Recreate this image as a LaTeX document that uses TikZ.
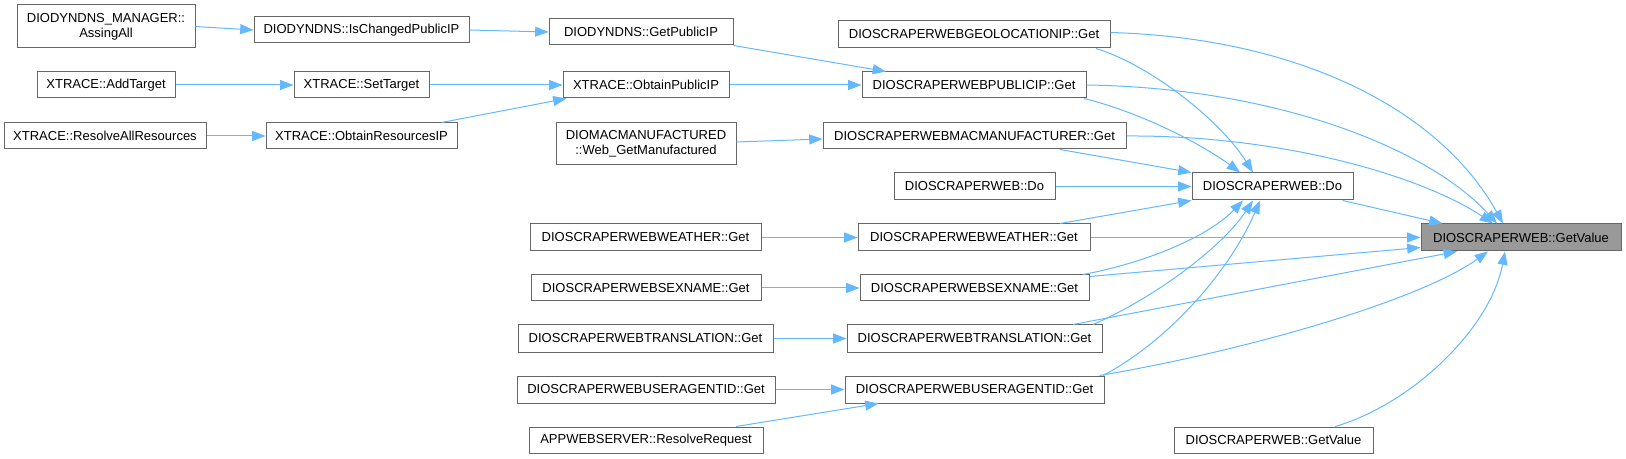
\documentclass[tikz,border=0pt]{standalone}
\usepackage{fontspec}
\setmainfont{Liberation Sans}
\usetikzlibrary{arrows.meta,calc}
\definecolor{edgecol}{HTML}{63B8FF}
\definecolor{nodeborder}{HTML}{666666}
\definecolor{gvfill}{HTML}{999999}
\tikzset{
  box/.style={draw=nodeborder, fill=white, line width=0.75pt, inner sep=0pt, align=center,
    font=\fontsize{9.75}{11.25}\selectfont},
  hl/.style={fill=gvfill},
  edge/.style={draw=edgecol, line width=0.75pt, -{Triangle[length=10pt,width=7.5pt]}},
}
\newcommand\mybox[7][]{\node[box,#1,minimum width={0.75pt*(#5-#3)},minimum height={0.75pt*(#6-#4)}] (#2) at ({(#3+#5)/2},{(#4+#6)/2}) {#7};}
\begin{document}
\begin{tikzpicture}[x=0.75pt,y=-0.75pt]
\useasboundingbox (0,0) rectangle (1626,459);
% nodes
\mybox{amgr}{17}{5}{195}{48}{DIODYNDNS\_MANAGER::\\AssingAll}
\mybox{ischg}{254}{17}{469}{43}{DIODYNDNS::IsChangedPublicIP}
\mybox{addt}{37}{72}{175}{98}{XTRACE::AddTarget}
\mybox{sett}{294}{72}{429}{98}{XTRACE::SetTarget}
\mybox{resall}{4}{123}{206}{149}{XTRACE::ResolveAllResources}
\mybox{obres}{266}{123}{457}{149}{XTRACE::ObtainResourcesIP}
\mybox{getpub}{549}{19}{733}{45}{DIODYNDNS::GetPublicIP}
\mybox{obpub}{563}{72}{729}{98}{XTRACE::ObtainPublicIP}
\mybox{macmf}{556}{123}{736}{165}{DIOMACMANUFACTURED\\::Web\_GetManufactured}
\mybox{geo}{838}{21}{1110}{48}{DIOSCRAPERWEBGEOLOCATIONIP::Get}
\mybox{pubip}{862}{72}{1086}{98}{DIOSCRAPERWEBPUBLICIP::Get}
\mybox{macget}{823}{123}{1126}{149}{DIOSCRAPERWEBMACMANUFACTURER::Get}
\mybox{do1}{894}{173}{1055}{200}{DIOSCRAPERWEB::Do}
\mybox{do2}{1192}{173}{1353}{200}{DIOSCRAPERWEB::Do}
\mybox[hl]{gv}{1421}{224}{1621}{251}{DIOSCRAPERWEB::GetValue}
\mybox{wea1}{530}{224}{761}{251}{DIOSCRAPERWEBWEATHER::Get}
\mybox{wea2}{858}{224}{1090}{251}{DIOSCRAPERWEBWEATHER::Get}
\mybox{sex1}{531}{275}{761}{301}{DIOSCRAPERWEBSEXNAME::Get}
\mybox{sex2}{860}{275}{1089}{301}{DIOSCRAPERWEBSEXNAME::Get}
\mybox{tr1}{518}{325}{773}{352}{DIOSCRAPERWEBTRANSLATION::Get}
\mybox{tr2}{847}{325}{1102}{352}{DIOSCRAPERWEBTRANSLATION::Get}
\mybox{ua1}{517}{376}{775}{403}{DIOSCRAPERWEBUSERAGENTID::Get}
\mybox{ua2}{845}{376}{1104}{403}{DIOSCRAPERWEBUSERAGENTID::Get}
\mybox{app}{529}{427}{763}{453}{APPWEBSERVER::ResolveRequest}
\mybox{gv2}{1174}{427}{1373}{453}{DIOSCRAPERWEB::GetValue}
% edges
\draw[edge] (amgr.east) -- (ischg.west);
\draw[edge] (ischg.east) -- (getpub.west);
\draw[edge] (addt.east) -- (sett.west);
\draw[edge] (sett.east) -- (obpub.west);
\draw[edge] (resall.east) -- (obres.west);
\draw[edge] ($(obres.north)+(80,0)$) -- ($(obpub.south west)+(4,0)$);
\draw[edge] (getpub.south east) -- ($(pubip.north)+(-88,0)$);
\draw[edge] (obpub.east) -- (pubip.west);
\draw[edge] ($(macmf.east)+(0,-2)$) -- ($(macget.west)+(0,3)$);
\draw[edge] ($(geo.east)+(0,-2)$) .. controls (1300,38) and (1440,110) .. ($(gv.north)+(-18,0)$);
\draw[edge] ($(geo.south)+(122,0)$) .. controls (1150,65) and (1220,120) .. ($(do2.north)+(-19.5,0)$);
\draw[edge] (pubip.east) .. controls (1280,88) and (1430,150) .. ($(gv.north)+(-24,0)$);
\draw[edge] ($(pubip.south)+(110,0)$) .. controls (1150,115) and (1210,150) .. ($(do2.north)+(-32.5,0)$);
\draw[edge] (macget.east) .. controls (1280,135) and (1420,175) .. ($(gv.north)+(-28,0)$);
\draw[edge] ($(macget.south)+(85.5,0)$) -- (do2.north west);
\draw[edge] (do1.east) -- (do2.west);
\draw[edge] ($(wea2.north)+(86,0)$) -- (do2.south west);
\draw[edge] (wea1.east) -- (wea2.west);
\draw[edge] (wea2.east) -- (gv.west);
\draw[edge] (sex1.east) -- (sex2.west);
\draw[edge] ($(sex2.north)+(108.5,0)$) .. controls (1150,262) and (1210,235) .. ($(do2.south)+(-29.5,0)$);
\draw[edge] ($(sex2.north east)+(0,2)$) -- ($(gv.west)+(0,10)$);
\draw[edge] (tr1.east) -- (tr2.west);
\draw[edge] ($(tr2.north)+(118.5,0)$) .. controls (1150,300) and (1220,250) .. ($(do2.south)+(-19.5,0)$);
\draw[edge] ($(tr2.north)+(98.5,0)$) -- ($(gv.south)+(-64,0)$);
\draw[edge] (ua1.east) -- (ua2.west);
\draw[edge] ($(ua2.north)+(128.5,0)$) .. controls (1170,340) and (1230,270) .. ($(do2.south)+(-12.5,0)$);
\draw[edge] ($(ua2.north)+(125,0)$) .. controls (1250,350) and (1420,300) .. ($(gv.south)+(-33,0)$);
\draw[edge] ($(app.north)+(90,0)$) -- ($(ua2.south)+(-96,0)$);
\draw[edge] ($(do2.south east)+(-11,0)$) -- ($(gv.north west)+(22,0)$);
\draw[edge] ($(gv2.north)+(61.5,0)$) .. controls (1410,405) and (1490,330) .. ($(gv.south)+(-16,0)$);
\end{tikzpicture}
\end{document}
